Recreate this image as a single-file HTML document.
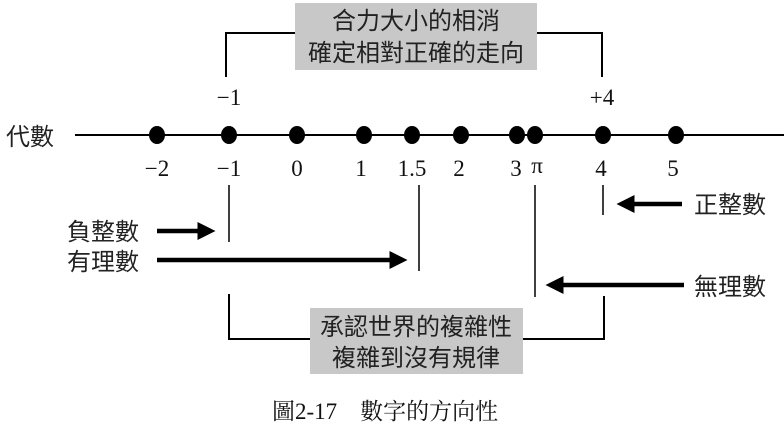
<!DOCTYPE html>
<html><head><meta charset="utf-8"><style>
body{margin:0;background:#fff;}
svg{display:block;}
.c{font-family:"Liberation Sans","Noto Sans CJK TC",sans-serif;font-size:24px;fill:#222;}
.n{font-family:"Liberation Serif",serif;font-size:23px;fill:#111;}
</style></head><body>
<svg width="784" height="431" viewBox="0 0 784 431" xmlns="http://www.w3.org/2000/svg">
<defs><marker id="a" markerWidth="4" markerHeight="4" refX="3" refY="2" orient="auto" markerUnits="strokeWidth"><path d="M0,0 L4,2 L0,4 z" fill="#000"/></marker></defs>
<rect x="295" y="3" width="242" height="67" fill="#c8c8c8"/>
<text class="c" x="416" y="29" text-anchor="middle">合力大小的相消</text>
<text class="c" x="416" y="61" text-anchor="middle">確定相對正確的走向</text>
<path d="M226,77 V33 H295 M537,33 H602 V77" fill="none" stroke="#000" stroke-width="2"/>
<text class="n" x="229" y="105" text-anchor="middle">−1</text>
<text class="n" x="602" y="105" text-anchor="middle">+4</text>
<text class="c" x="6" y="145">代數</text>
<line x1="75" y1="135" x2="784" y2="135" stroke="#000" stroke-width="2"/>
<g fill="#000">
<ellipse cx="157" cy="135" rx="8" ry="9"/><ellipse cx="229" cy="135" rx="8" ry="9"/>
<ellipse cx="297" cy="135" rx="8" ry="9"/><ellipse cx="364" cy="135" rx="8" ry="9"/>
<ellipse cx="412" cy="135" rx="8" ry="9"/><ellipse cx="461" cy="135" rx="8" ry="9"/>
<ellipse cx="517" cy="135" rx="8" ry="9"/><ellipse cx="535" cy="135" rx="8" ry="9"/>
<ellipse cx="603" cy="135" rx="8" ry="9"/><ellipse cx="676" cy="135" rx="8" ry="9"/>
</g>
<g class="n" text-anchor="middle">
<text x="157" y="176">−2</text><text x="229" y="176">−1</text><text x="297" y="176">0</text>
<text x="361" y="176">1</text><text x="412" y="176">1.5</text><text x="459" y="176">2</text>
<text x="516" y="176">3</text><text x="537" y="173">π</text><text x="601" y="176">4</text><text x="673" y="176">5</text>
</g>
<g stroke="#000" stroke-width="1.5">
<line x1="229" y1="185" x2="229" y2="242"/><line x1="419" y1="185" x2="419" y2="271"/>
<line x1="535" y1="185" x2="535" y2="297"/><line x1="603" y1="185" x2="603" y2="215"/>
</g>
<g stroke="#000" stroke-width="4.5" marker-end="url(#a)">
<line x1="157" y1="231" x2="211" y2="231"/>
<line x1="157" y1="260" x2="403" y2="260"/>
<line x1="682" y1="204" x2="621" y2="204"/>
<line x1="684" y1="285" x2="550" y2="285"/>
</g>
<text class="c" x="67" y="240">負整數</text>
<text class="c" x="67" y="270">有理數</text>
<text class="c" x="694" y="213">正整數</text>
<text class="c" x="694" y="295">無理數</text>
<path d="M229,294 V339 H310 M523,339 H604 V296" fill="none" stroke="#000" stroke-width="2"/>
<rect x="310" y="308" width="213" height="66" fill="#c8c8c8"/>
<text class="c" x="416" y="335" text-anchor="middle">承認世界的複雜性</text>
<text class="c" x="416" y="366" text-anchor="middle">複雜到沒有規律</text>
<text x="272" y="419" style="font-family:'Liberation Serif','Noto Serif CJK SC',serif;font-size:23px;fill:#111">圖2-17　數字的方向性</text>
</svg>
</body></html>
